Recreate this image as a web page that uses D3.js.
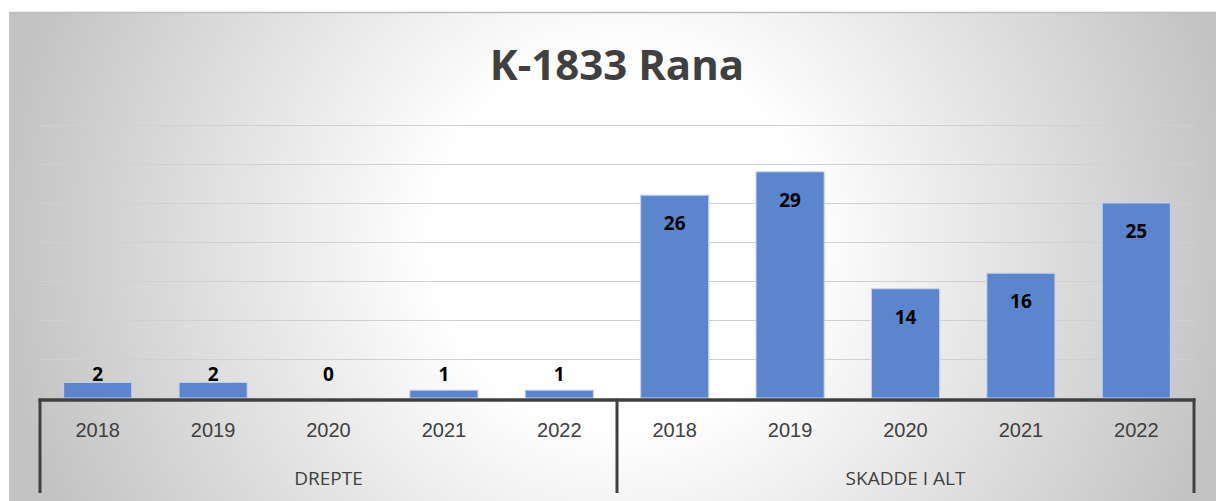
<!DOCTYPE html>
<html>
<head>
<meta charset="utf-8">
<script src="https://cdn.jsdelivr.net/npm/d3@7"></script>
<style>
  body { margin: 0; background: #fff; }
  svg { display: block; font-family: "Open Sans", "Noto Sans", sans-serif; }
  .grid line { stroke: #d0d0d0; stroke-width: 1; }
  .grid .domain { display: none; }
  .years .domain { display: none; }
  .years text { fill: #404040; font-size: 20px; }
</style>
</head>
<body>
<div class="visualization"></div>
<script>
const groups = ["DREPTE", "SKADDE I ALT"];
const years = ["2018", "2019", "2020", "2021", "2022"];
const drepte = [2, 2, 0, 1, 1];
const skadde = [26, 29, 14, 16, 25];
const yTicks = [0, 5, 10, 15, 20, 25, 30, 35];
const title = "K-1833 Rana";

const width = 1216, height = 501;
const margin = { left: 40, right: 22, top: 125, bottom: 103 };

let rows = [];
[drepte, skadde].forEach((vals, gi) => {
  years.forEach((yr, i) => {
    rows.push({ key: groups[gi] + "|" + yr, group: groups[gi], year: yr, value: vals[i] });
  });
});

const svg = d3.select(".visualization").append("svg")
  .attr("width", width)
  .attr("height", height);

// background with radial gradient
let grad = svg.append("defs").append("radialGradient")
  .attr("id", "bg")
  .attr("gradientUnits", "userSpaceOnUse")
  .attr("cx", 620).attr("cy", 240).attr("r", 620);
grad.append("stop").attr("offset", "0").attr("stop-color", "#ffffff");
grad.append("stop").attr("offset", "0.3").attr("stop-color", "#ffffff");
grad.append("stop").attr("offset", "1").attr("stop-color", "#c3c3c3");

svg.append("rect")
  .attr("x", 9).attr("y", 12)
  .attr("width", width - 9).attr("height", height - 12)
  .attr("fill", "url(#bg)");
svg.append("line")
  .attr("x1", 9).attr("x2", width).attr("y1", 12.5).attr("y2", 12.5)
  .attr("stroke", "#bdbdbd").attr("stroke-width", 1.5);

const x0 = margin.left, x1 = width - margin.right;
const yBase = height - margin.bottom;

const xScale = d3.scaleBand()
  .domain(rows.map(d => d.key))
  .range([x0, x1])
  .padding(0);

const yScale = d3.scaleLinear()
  .domain([0, 35])
  .range([yBase, margin.top]);

// gridlines
svg.append("g")
  .attr("class", "grid")
  .attr("transform", `translate(${x0}, 0)`)
  .call(d3.axisLeft(yScale).tickValues(yTicks.slice(1)).tickSize(-(x1 - x0)).tickFormat(""));

// title
svg.append("text")
  .attr("x", (x0 + x1) / 2)
  .attr("y", 80)
  .attr("text-anchor", "middle")
  .attr("font-size", 42)
  .attr("font-weight", "bold")
  .attr("fill", "#404040")
  .text(title);

// bars
const barW = xScale.bandwidth() * 0.59;
svg.append("g")
  .selectAll(".bar")
  .data(rows)
  .enter().append("rect")
  .attr("class", "bar")
  .attr("x", d => xScale(d.key) + (xScale.bandwidth() - barW) / 2)
  .attr("y", d => yScale(d.value))
  .attr("width", barW)
  .attr("height", d => yBase - yScale(d.value))
  .attr("fill", "#5b85cc")
  .attr("stroke", "#c3d3ee")
  .attr("stroke-width", d => d.value > 0 ? 1 : 0);

// data labels
svg.append("g")
  .selectAll(".label")
  .data(rows)
  .enter().append("text")
  .attr("x", d => xScale(d.key) + xScale.bandwidth() / 2)
  .attr("y", d => Math.min(yScale(d.value) + 35, yBase - 17))
  .attr("text-anchor", "middle")
  .attr("font-size", 19)
  .attr("font-weight", "bold")
  .attr("fill", "#000")
  .text(d => d.value);

// year axis
svg.append("g")
  .attr("class", "years")
  .attr("transform", `translate(0, ${yBase})`)
  .call(d3.axisBottom(xScale).tickSize(0).tickPadding(25).tickFormat(k => k.split("|")[1]));

// group labels
const groupEdges = groups.map(g => {
  let keys = rows.filter(d => d.group === g).map(d => d.key);
  return { group: g, start: xScale(keys[0]), end: xScale(keys[keys.length - 1]) + xScale.bandwidth() };
});

svg.append("g")
  .selectAll(".group-label")
  .data(groupEdges)
  .enter().append("text")
  .attr("x", d => (d.start + d.end) / 2)
  .attr("y", 485)
  .attr("text-anchor", "middle")
  .attr("font-size", 19)
  .attr("fill", "#404040")
  .text(d => d.group);

// axis lines
svg.append("line")
  .attr("x1", x0 - 1.5).attr("x2", x1 + 1.5)
  .attr("y1", yBase + 2).attr("y2", yBase + 2)
  .attr("stroke", "#404040").attr("stroke-width", 3.5);

let seps = [groupEdges[0].start].concat(groupEdges.map(d => d.end));
svg.append("g")
  .selectAll("line")
  .data(seps)
  .enter().append("line")
  .attr("x1", d => d).attr("x2", d => d)
  .attr("y1", yBase + 0.5).attr("y2", 493)
  .attr("stroke", "#404040").attr("stroke-width", 3);
</script>
</body>
</html>
